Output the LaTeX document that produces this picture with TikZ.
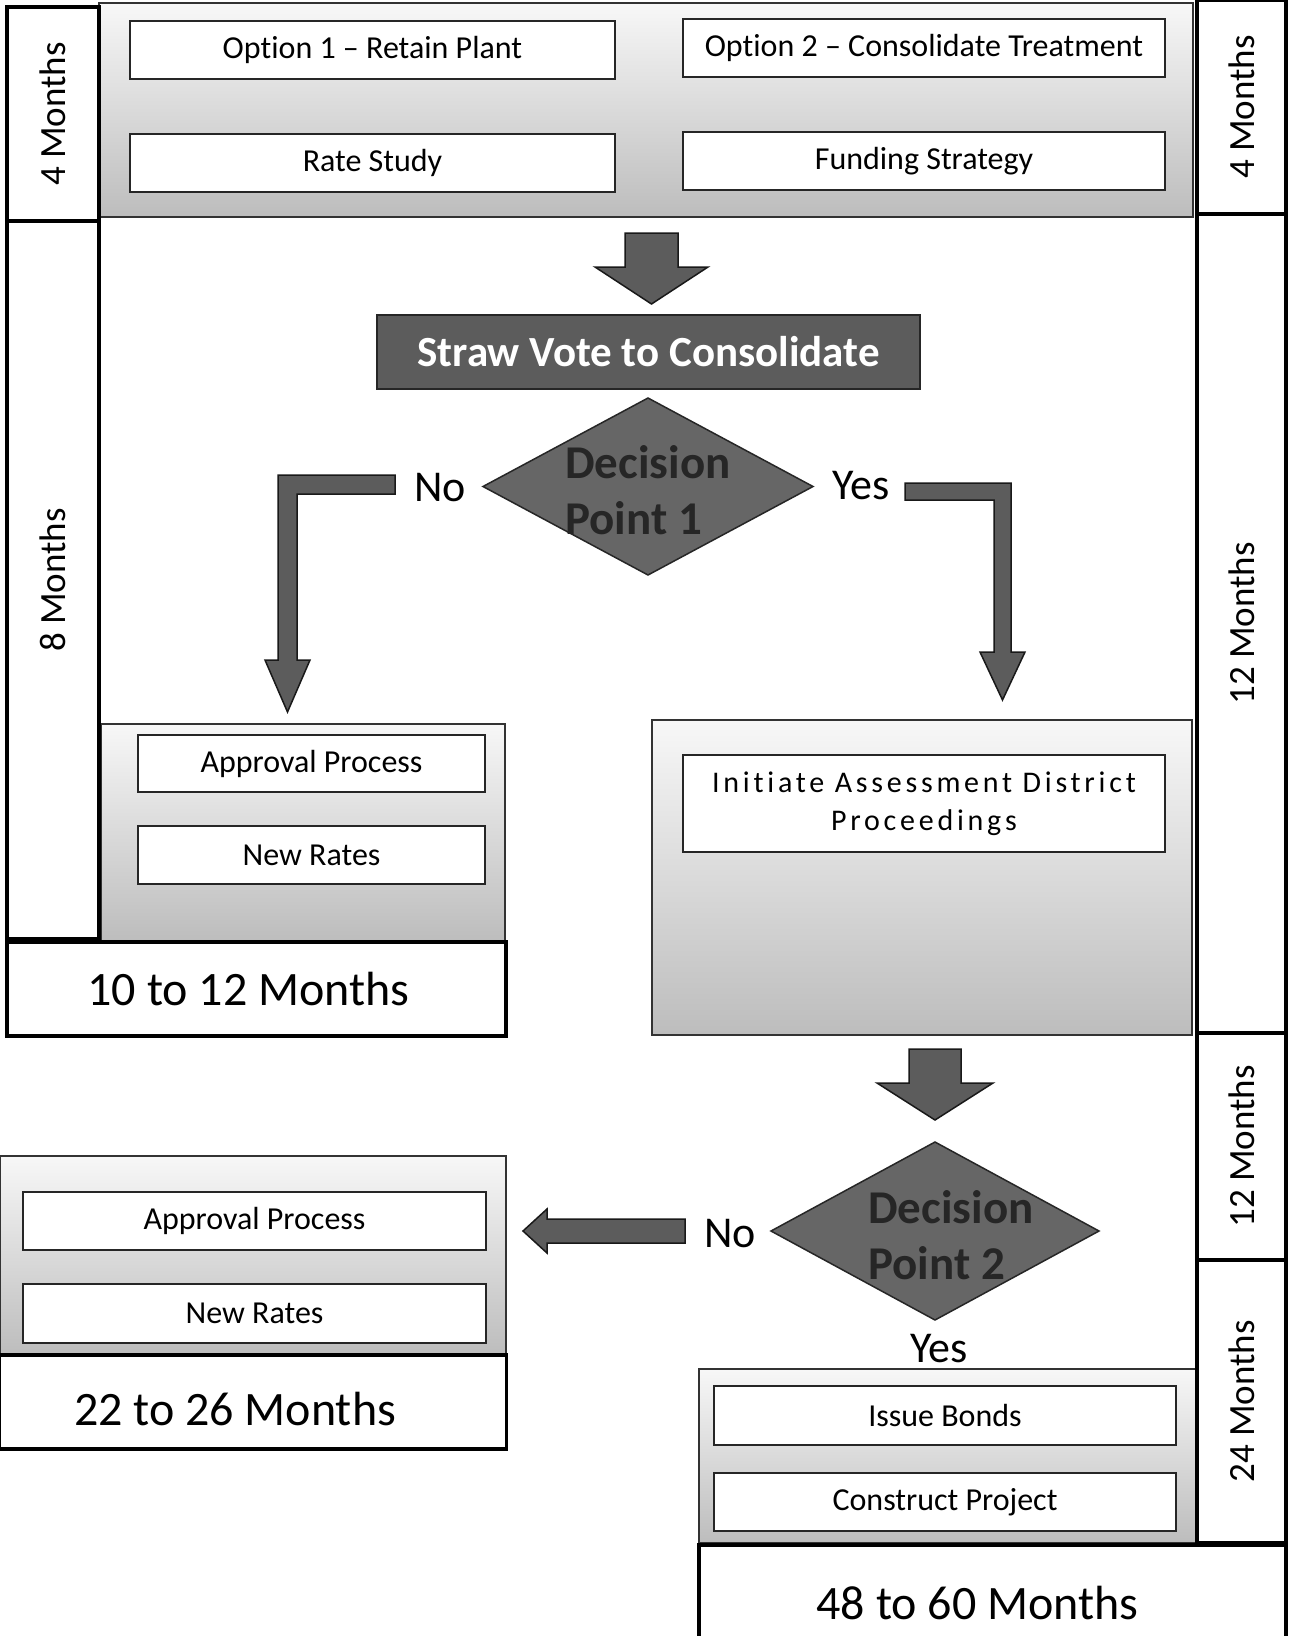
\documentclass[tikz,border=0pt]{standalone}
\usepackage{fontspec}
\setmainfont{Carlito}[Ligatures={TeX,NoCommon}]
\newfontfamily\spacedfont{Carlito}[LetterSpace=12.5, Ligatures=NoCommon]
\usetikzlibrary{calc,shapes.geometric}
\begin{document}
\begin{tikzpicture}[x=1pt,y=-1pt,
  every node/.style={inner sep=0pt, outer sep=0pt},
  timebox/.style={draw=black, line width=3.5pt, fill=white, rotate=90, font=\fontsize{37}{44}\selectfont},
  totalbox/.style={draw=black, line width=3.5pt, fill=white},
  totaltext/.style={font=\fontsize{48}{56}\selectfont},
  panel/.style={draw=black!80, line width=1.5pt, top color=gray!6, bottom color=gray!52},
  item/.style={draw=black!85, line width=1.5pt, fill=white, font=\fontsize{32}{38}\selectfont},
  darkbox/.style={fill=black!64, draw=black!85, line width=2pt},
  dpshape/.style={diamond, fill=black!60, draw=black!85, line width=1.5pt},
  dptext/.style={font=\bfseries\fontsize{47}{56}\selectfont, text=black!85, align=left},
  lbl/.style={font=\fontsize{44}{52}\selectfont},
  blockarrow/.style={fill=black!64, draw=black!90, line width=1.5pt, line join=miter}
]
\useasboundingbox (0,0) rectangle (1289,1636);
\fill[white] (0,0) rectangle (1289,1636);

% ---------- panels ----------
\node[panel, minimum width=1094, minimum height=214] (topband) at (646,110) {};
\node[panel, minimum width=404, minimum height=217] (panelA) at (303,832.5) {};
\node[panel, minimum width=540, minimum height=315] (panelB) at (922,877.5) {};
\node[panel, minimum width=506, minimum height=199] (panelC) at (253,1255.5) {};
\node[panel, minimum width=497, minimum height=174] (panelD) at (947.5,1456) {};

% ---------- timeline boxes ----------
\node[timebox, minimum width=214, minimum height=92] (m4L) at (53,114) {4 Months};
\node[timebox, minimum width=718, minimum height=92] (m8L) at (53,580) {8 Months};
\node[timebox, minimum width=214, minimum height=89] (m4R) at (1241.5,107) {4 Months};
\node[timebox, minimum width=819, minimum height=89] (m12R) at (1241.5,623.5) {12 Months};
\node[timebox, minimum width=227, minimum height=89] (m12Rb) at (1241.5,1146.5) {12 Months};
\node[timebox, minimum width=283, minimum height=89] (m24R) at (1241.5,1401.5) {24 Months};

\node[totalbox, minimum width=499, minimum height=94] (tot1) at (256.5,989) {};
\node[totaltext] (tot1t) at ($(tot1)+(-8,0)$) {10 to 12 Months};
\node[totalbox, minimum width=507, minimum height=94] (tot2) at (253,1402) {};
\node[totaltext] (tot2t) at ($(tot2)+(-18,7)$) {22 to 26 Months};
\node[totalbox, minimum width=587, minimum height=97] (tot3) at (992.5,1593.5) {};
\node[totaltext] (tot3t) at ($(tot3)+(-15,9)$) {48 to 60 Months};

% ---------- items ----------
\node[item, minimum width=485, minimum height=58] (opt1) at (372.5,50) {Option 1 – Retain Plant};
\node[item, minimum width=482, minimum height=58] (opt2) at (924,48) {Option 2 – Consolidate Treatment};
\node[item, minimum width=485, minimum height=58] (rate) at (372.5,163) {Rate Study};
\node[item, minimum width=482, minimum height=58] (fund) at (924,161) {Funding Strategy};

\node[item, minimum width=347, minimum height=57] (appr1) at (311.5,763.5) {Approval Process};
\node[item, minimum width=347, minimum height=58] (rates1) at (311.5,855) {New Rates};

\node[item, minimum width=482, minimum height=97, font=\spacedfont\fontsize{30}{38}\selectfont, align=center] (init) at (924,803.5) {Initiate Assessment District\\Proceedings};

\node[item, minimum width=463, minimum height=58] (appr2) at (254.5,1221) {Approval Process};
\node[item, minimum width=463, minimum height=59] (rates2) at (254.5,1313.5) {New Rates};

\node[item, minimum width=462, minimum height=59] (bonds) at (945,1415.5) {Issue Bonds};
\node[item, minimum width=462, minimum height=58] (constr) at (945,1502) {Construct Project};

% ---------- decision flow ----------
\node[darkbox, minimum width=543, minimum height=74, text=white, font=\bfseries\fontsize{43}{50}\selectfont] (straw) at (648.5,352) {Straw Vote to Consolidate};

\node[dpshape, minimum width=330, minimum height=177] (dp1) at (648,486.5) {};
\node[dptext] (dp1t) at ($(dp1)+(0,4)$) {Decision\\Point 1};
\node[dpshape, minimum width=328, minimum height=178] (dp2) at (935,1231) {};
\node[dptext] (dp2t) at ($(dp2)+(16,4)$) {Decision\\Point 2};

\node[lbl] (no1) at (440,488) {No};
\node[lbl] (yes1) at (861,486) {Yes};
\node[lbl] (no2) at (730,1234) {No};
\node[lbl] (yes2) at (939,1349) {Yes};

% ---------- block arrows ----------
\draw[blockarrow] (625,233) -- (678,233) -- (678,267) -- (708,267) -- (651.5,304) -- (595,267) -- (625,267) -- cycle;
\draw[blockarrow] (395,475) -- (278,475) -- (278,660) -- (265,660) -- (287.5,712) -- (310,660) -- (297,660) -- (297,494) -- (395,494) -- cycle;
\draw[blockarrow] (905,483) -- (1011,483) -- (1011,652) -- (1025,652) -- (1002.5,700) -- (980,652) -- (994,652) -- (994,500) -- (905,500) -- cycle;
\draw[blockarrow] (909,1049) -- (961,1049) -- (961,1083) -- (993,1083) -- (935,1120) -- (877,1083) -- (909,1083) -- cycle;
\draw[blockarrow] (685,1219) -- (685,1243) -- (547,1243) -- (547,1253) -- (523,1231) -- (547,1209) -- (547,1219) -- cycle;
\end{tikzpicture}
\end{document}
